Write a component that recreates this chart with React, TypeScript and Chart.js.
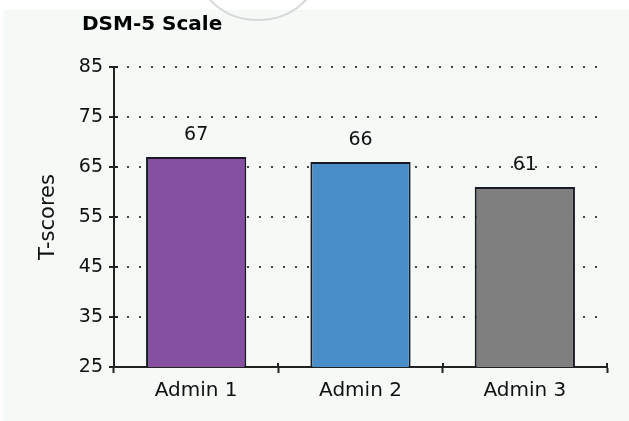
import React, { useEffect, useRef } from "react";
import { Chart, registerables } from "chart.js";

Chart.register(...registerables);

const categories = ["Admin 1", "Admin 2", "Admin 3"];
const tScores = [67, 66, 61];
const barColors = ["#8650a0", "#4a8ec9", "#7f7f7f"];
const yMin = 25;
const yMax = 85;
const yStep = 10;
const chartTitle = "DSM-5 Scale";
const yTitle = "T-scores";

const FONT = "'DejaVu Sans', 'Liberation Sans', Arial, sans-serif";

export default function App() {
  const ref = useRef<HTMLCanvasElement>(null);

  useEffect(() => {
    document.body.style.margin = "0";
    const canvas = ref.current;
    if (!canvas) return;

    const decor = {
      id: "decor",
      beforeDraw(chart: any) {
        const ctx = chart.ctx;
        ctx.save();
        ctx.fillStyle = "#ffffff";
        ctx.fillRect(0, 0, chart.width, chart.height);
        ctx.fillStyle = "#f5faf7";
        ctx.fillRect(3, 10, chart.width - 3, chart.height - 10);
        ctx.strokeStyle = "#d8d8d8";
        ctx.lineWidth = 2;
        ctx.beginPath();
        ctx.ellipse(258, -35, 62, 55, 0, 0, Math.PI);
        ctx.stroke();
        ctx.restore();
      },
      afterDraw(chart: any) {
        const ctx = chart.ctx;
        const xs = chart.scales.x;
        const ys = chart.scales.y;
        const area = chart.chartArea;
        ctx.save();
        // inner parts of the crossing tick marks
        ctx.strokeStyle = "#222222";
        ctx.lineWidth = 2;
        ctx.beginPath();
        ys.ticks.forEach((t: any) => {
          const py = Math.round(ys.getPixelForValue(t.value));
          ctx.moveTo(area.left, py);
          ctx.lineTo(area.left + 4, py);
        });
        const half = (xs.getPixelForValue(1) - xs.getPixelForValue(0)) / 2;
        categories.forEach((_c, i) => {
          const px = Math.round(xs.getPixelForValue(i) + half);
          ctx.moveTo(px, area.bottom);
          ctx.lineTo(px, area.bottom - 4);
        });
        ctx.stroke();

        ctx.fillStyle = "#000000";
        ctx.font = `bold 20px ${FONT}`;
        ctx.textAlign = "left";
        ctx.textBaseline = "middle";
        ctx.fillText(chartTitle, 82, 25);

        ctx.font = `19px ${FONT}`;
        ctx.fillStyle = "#111111";
        ctx.textAlign = "center";
        ctx.textBaseline = "bottom";
        const meta = chart.getDatasetMeta(0);
        meta.data.forEach((bar: any, i: number) => {
          ctx.fillText(String(tScores[i]), bar.x, bar.y - 12);
        });
        ctx.restore();
      },
    };

    const chart = new Chart(canvas, {
      type: "bar",
      data: {
        labels: categories,
        datasets: [
          {
            data: tScores,
            backgroundColor: barColors,
            borderColor: "#1a1a24",
            borderWidth: 2,
            categoryPercentage: 1,
            barPercentage: 0.61,
          },
        ],
      },
      options: {
        responsive: false,
        animation: false,
        devicePixelRatio: 1,
        layout: { padding: { top: 67, right: 22, left: 0, bottom: 0 } },
        plugins: {
          legend: { display: false },
          title: { display: false },
          tooltip: { enabled: false },
        },
        scales: {
          x: {
            offset: true,
            grid: {
              display: true,
              drawOnChartArea: false,
              drawTicks: true,
              offset: true,
              tickLength: 6,
              tickWidth: 2,
              tickColor: "#222222",
              tickBorderDash: [],
            },
            border: { display: true, color: "#222222", width: 2 },
            ticks: {
              color: "#111111",
              font: { family: FONT, size: 20 },
              padding: 6,
            },
            afterFit: (s: any) => {
              s.height = 54;
            },
          },
          y: {
            min: yMin,
            max: yMax,
            ticks: {
              stepSize: yStep,
              color: "#111111",
              font: { family: FONT, size: 19 },
              padding: 6,
            },
            grid: {
              color: "#444444",
              lineWidth: 2,
              drawTicks: true,
              tickLength: 5,
              tickWidth: 2,
              tickColor: "#222222",
              tickBorderDash: [],
            },
            border: { display: true, color: "#222222", width: 2, dash: [2, 10] },
            title: {
              display: true,
              text: yTitle,
              color: "#111111",
              font: { family: FONT, size: 21 },
              padding: { top: 36, bottom: 0 },
            },
            afterFit: (s: any) => {
              s.width = 114;
            },
          },
        },
      },
      plugins: [decor],
    });

    return () => chart.destroy();
  }, []);

  return (
    <div style={{ width: 629, height: 421 }}>
      <canvas ref={ref} width={629} height={421} style={{ display: "block" }} />
    </div>
  );
}
